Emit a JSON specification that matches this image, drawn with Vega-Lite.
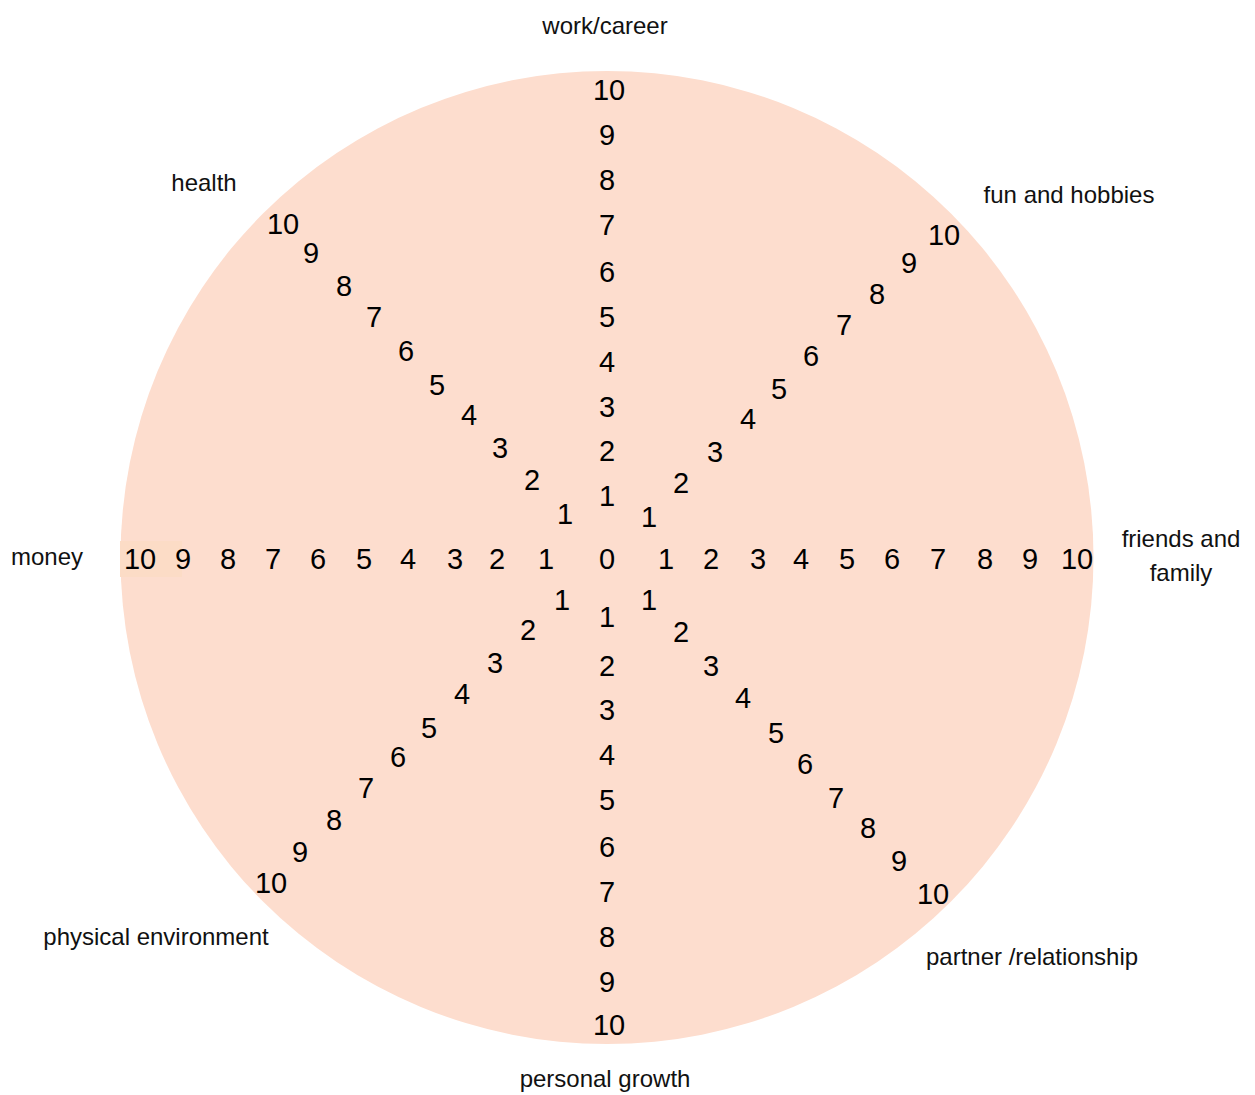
{
  "$schema": "https://vega.github.io/schema/vega-lite/v6.json",
  "width": 1255,
  "height": 1095,
  "autosize": {"type": "fit", "contains": "padding"},
  "padding": 0,
  "background": "white",
  "config": {"view": {"stroke": null}},
  "datasets": {
    "wheel": [{"dx": 0, "dy": 0.5}],
    "highlight": [{"x1": -487, "x2": -425, "y1": 17, "y2": -19}],
    "scores": [
      {"spoke": "centre", "score": 0, "dx": 0, "dy": -2},
      {"spoke": "work/career", "score": 1, "dx": 0, "dy": 61},
      {"spoke": "work/career", "score": 2, "dx": 0, "dy": 106},
      {"spoke": "work/career", "score": 3, "dx": 0, "dy": 150},
      {"spoke": "work/career", "score": 4, "dx": 0, "dy": 195},
      {"spoke": "work/career", "score": 5, "dx": 0, "dy": 240},
      {"spoke": "work/career", "score": 6, "dx": 0, "dy": 285},
      {"spoke": "work/career", "score": 7, "dx": 0, "dy": 332},
      {"spoke": "work/career", "score": 8, "dx": 0, "dy": 377},
      {"spoke": "work/career", "score": 9, "dx": 0, "dy": 422},
      {"spoke": "work/career", "score": 10, "dx": 2, "dy": 467},
      {"spoke": "personal growth", "score": 1, "dx": 0, "dy": -60},
      {"spoke": "personal growth", "score": 2, "dx": 0, "dy": -109},
      {"spoke": "personal growth", "score": 3, "dx": 0, "dy": -153},
      {"spoke": "personal growth", "score": 4, "dx": 0, "dy": -198},
      {"spoke": "personal growth", "score": 5, "dx": 0, "dy": -243},
      {"spoke": "personal growth", "score": 6, "dx": 0, "dy": -290},
      {"spoke": "personal growth", "score": 7, "dx": 0, "dy": -335},
      {"spoke": "personal growth", "score": 8, "dx": 0, "dy": -380},
      {"spoke": "personal growth", "score": 9, "dx": 0, "dy": -425},
      {"spoke": "personal growth", "score": 10, "dx": 2, "dy": -468},
      {"spoke": "friends and family", "score": 1, "dx": 59, "dy": -2},
      {"spoke": "friends and family", "score": 2, "dx": 104, "dy": -2},
      {"spoke": "friends and family", "score": 3, "dx": 151, "dy": -2},
      {"spoke": "friends and family", "score": 4, "dx": 194, "dy": -2},
      {"spoke": "friends and family", "score": 5, "dx": 240, "dy": -2},
      {"spoke": "friends and family", "score": 6, "dx": 285, "dy": -2},
      {"spoke": "friends and family", "score": 7, "dx": 331, "dy": -2},
      {"spoke": "friends and family", "score": 8, "dx": 378, "dy": -2},
      {"spoke": "friends and family", "score": 9, "dx": 423, "dy": -2},
      {"spoke": "friends and family", "score": 10, "dx": 470, "dy": -2},
      {"spoke": "money", "score": 1, "dx": -61, "dy": -2},
      {"spoke": "money", "score": 2, "dx": -110, "dy": -2},
      {"spoke": "money", "score": 3, "dx": -152, "dy": -2},
      {"spoke": "money", "score": 4, "dx": -199, "dy": -2},
      {"spoke": "money", "score": 5, "dx": -243, "dy": -2},
      {"spoke": "money", "score": 6, "dx": -289, "dy": -2},
      {"spoke": "money", "score": 7, "dx": -334, "dy": -2},
      {"spoke": "money", "score": 8, "dx": -379, "dy": -2},
      {"spoke": "money", "score": 9, "dx": -424, "dy": -2},
      {"spoke": "money", "score": 10, "dx": -467, "dy": -2},
      {"spoke": "fun and hobbies", "score": 1, "dx": 42, "dy": 40},
      {"spoke": "fun and hobbies", "score": 2, "dx": 74, "dy": 74},
      {"spoke": "fun and hobbies", "score": 3, "dx": 108, "dy": 105},
      {"spoke": "fun and hobbies", "score": 4, "dx": 141, "dy": 138},
      {"spoke": "fun and hobbies", "score": 5, "dx": 172, "dy": 168},
      {"spoke": "fun and hobbies", "score": 6, "dx": 204, "dy": 201},
      {"spoke": "fun and hobbies", "score": 7, "dx": 237, "dy": 232},
      {"spoke": "fun and hobbies", "score": 8, "dx": 270, "dy": 263},
      {"spoke": "fun and hobbies", "score": 9, "dx": 302, "dy": 294},
      {"spoke": "fun and hobbies", "score": 10, "dx": 337, "dy": 322},
      {"spoke": "health", "score": 1, "dx": -42, "dy": 43},
      {"spoke": "health", "score": 2, "dx": -75, "dy": 77},
      {"spoke": "health", "score": 3, "dx": -107, "dy": 109},
      {"spoke": "health", "score": 4, "dx": -138, "dy": 142},
      {"spoke": "health", "score": 5, "dx": -170, "dy": 172},
      {"spoke": "health", "score": 6, "dx": -201, "dy": 206},
      {"spoke": "health", "score": 7, "dx": -233, "dy": 240},
      {"spoke": "health", "score": 8, "dx": -263, "dy": 271},
      {"spoke": "health", "score": 9, "dx": -296, "dy": 304},
      {"spoke": "health", "score": 10, "dx": -324, "dy": 333},
      {"spoke": "physical environment", "score": 1, "dx": -45, "dy": -43},
      {"spoke": "physical environment", "score": 2, "dx": -79, "dy": -73},
      {"spoke": "physical environment", "score": 3, "dx": -112, "dy": -106},
      {"spoke": "physical environment", "score": 4, "dx": -145, "dy": -137},
      {"spoke": "physical environment", "score": 5, "dx": -178, "dy": -171},
      {"spoke": "physical environment", "score": 6, "dx": -209, "dy": -200},
      {"spoke": "physical environment", "score": 7, "dx": -241, "dy": -231},
      {"spoke": "physical environment", "score": 8, "dx": -273, "dy": -263},
      {"spoke": "physical environment", "score": 9, "dx": -307, "dy": -295},
      {"spoke": "physical environment", "score": 10, "dx": -336, "dy": -326},
      {"spoke": "partner /relationship", "score": 1, "dx": 42, "dy": -43},
      {"spoke": "partner /relationship", "score": 2, "dx": 74, "dy": -75},
      {"spoke": "partner /relationship", "score": 3, "dx": 104, "dy": -109},
      {"spoke": "partner /relationship", "score": 4, "dx": 136, "dy": -141},
      {"spoke": "partner /relationship", "score": 5, "dx": 169, "dy": -176},
      {"spoke": "partner /relationship", "score": 6, "dx": 198, "dy": -207},
      {"spoke": "partner /relationship", "score": 7, "dx": 229, "dy": -241},
      {"spoke": "partner /relationship", "score": 8, "dx": 261, "dy": -271},
      {"spoke": "partner /relationship", "score": 9, "dx": 292, "dy": -304},
      {"spoke": "partner /relationship", "score": 10, "dx": 326, "dy": -337}
    ],
    "areas": [
      {"label": "work/career", "dx": -2, "dy": 531},
      {"label": "fun and hobbies", "dx": 462, "dy": 362},
      {"label": "friends and\nfamily", "dx": 574, "dy": 18},
      {"label": "partner /relationship", "dx": 425, "dy": -400},
      {"label": "personal growth", "dx": -2, "dy": -522},
      {"label": "physical environment", "dx": -451, "dy": -380},
      {"label": "money", "dx": -560, "dy": 0},
      {"label": "health", "dx": -403, "dy": 374}
    ]
  },
  "layer": [
    {
      "data": {"name": "wheel"},
      "mark": {"type": "point", "shape": "circle", "filled": true, "size": 946729, "color": "#FDDDCE", "opacity": 1, "strokeWidth": 0},
      "encoding": {
        "x": {"field": "dx", "type": "quantitative", "scale": {"domain": [-607, 648], "nice": false, "zero": false}, "axis": null},
        "y": {"field": "dy", "type": "quantitative", "scale": {"domain": [-537, 558], "nice": false, "zero": false}, "axis": null}
      }
    },
    {
      "data": {"name": "highlight"},
      "mark": {"type": "rect", "color": "#FCDCC6"},
      "encoding": {
        "x": {"field": "x1", "type": "quantitative"},
        "x2": {"field": "x2"},
        "y": {"field": "y1", "type": "quantitative"},
        "y2": {"field": "y2"}
      }
    },
    {
      "data": {"name": "scores"},
      "mark": {"type": "text", "font": "Liberation Sans, Arial, sans-serif", "fontSize": 29, "color": "#000000", "align": "center", "baseline": "middle"},
      "encoding": {
        "x": {"field": "dx", "type": "quantitative"},
        "y": {"field": "dy", "type": "quantitative"},
        "text": {"field": "score", "type": "nominal"}
      }
    },
    {
      "data": {"name": "areas"},
      "transform": [{"calculate": "split(datum.label, '\\n')", "as": "lines"}],
      "mark": {"type": "text", "font": "Liberation Sans, Arial, sans-serif", "fontSize": 24, "color": "#111111", "align": "center", "baseline": "middle", "lineHeight": 34},
      "encoding": {
        "x": {"field": "dx", "type": "quantitative"},
        "y": {"field": "dy", "type": "quantitative"},
        "text": {"field": "lines"}
      }
    }
  ]
}
